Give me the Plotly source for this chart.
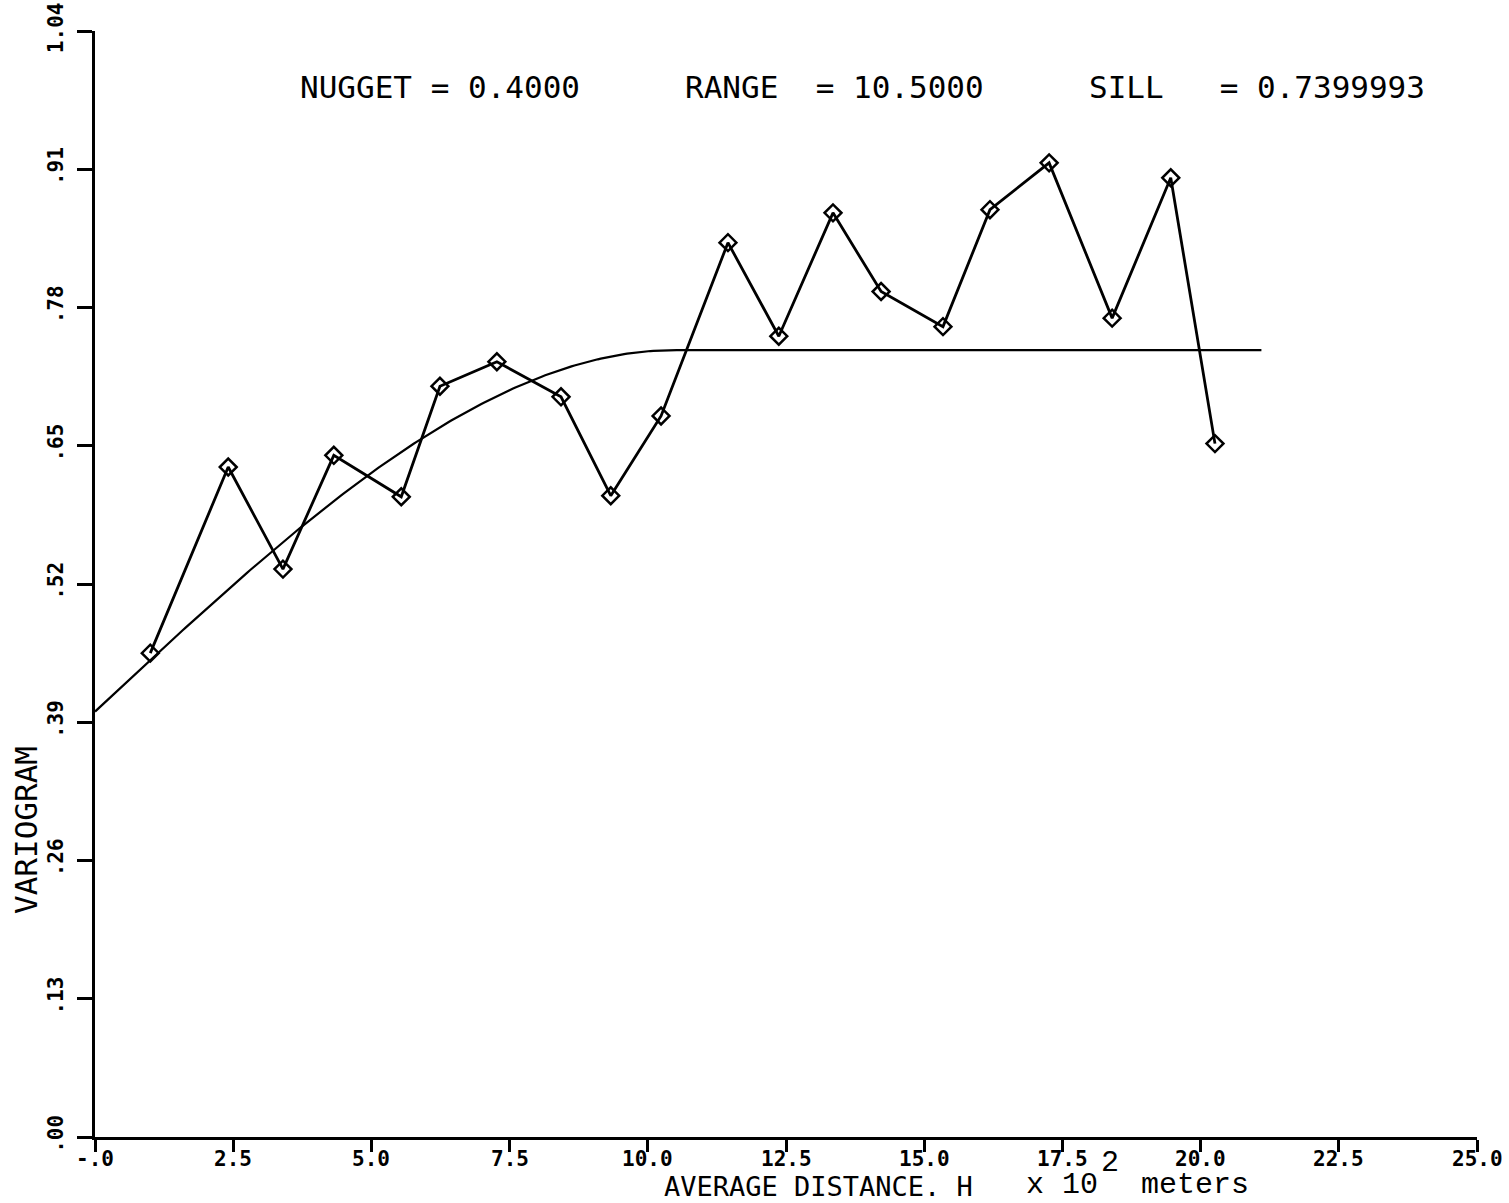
import numpy as np
import plotly.graph_objects as go

# Experimental semivariogram: average lag distance (x 10^2 m) and variogram value
lag_distance = [1.00, 2.41, 3.40, 4.32, 5.54, 6.24, 7.27, 8.43, 9.33, 10.24,
                11.45, 12.37, 13.35, 14.22, 15.34, 16.19, 17.26, 18.40, 19.46, 20.26]
variogram = [0.455, 0.630, 0.534, 0.641, 0.602, 0.706, 0.729, 0.696, 0.603, 0.678,
             0.841, 0.753, 0.869, 0.795, 0.762, 0.872, 0.916, 0.770, 0.902, 0.652]

# Fitted spherical model parameters
NUGGET = 0.4000
RANGE = 10.5000
SILL = 0.7399993
MODEL_MAX_LAG = 21.1

x_ticks = [0, 2.5, 5.0, 7.5, 10.0, 12.5, 15.0, 17.5, 20.0, 22.5, 25.0]
x_tick_text = ["-.0", "2.5", "5.0", "7.5", "10.0", "12.5", "15.0", "17.5", "20.0", "22.5", "25.0"]
y_ticks = [0.0, 0.13, 0.26, 0.39, 0.52, 0.65, 0.78, 0.91, 1.04]
y_tick_text = [".00", ".13", ".26", ".39", ".52", ".65", ".78", ".91", "1.04"]

# Spherical model curve built from the stated nugget, range and sill
h = np.linspace(0, MODEL_MAX_LAG, 400)
r = np.minimum(h / RANGE, 1.0)
model = NUGGET + (SILL - NUGGET) * (1.5 * r - 0.5 * r ** 3)

fig = go.Figure()
fig.add_trace(go.Scatter(x=h, y=model, mode="lines",
                         line=dict(color="black", width=2.2), hoverinfo="skip"))
fig.add_trace(go.Scatter(x=lag_distance, y=variogram, mode="lines+markers",
                         line=dict(color="black", width=2.8),
                         marker=dict(symbol="diamond-open", size=13, color="black",
                                     line=dict(color="black", width=2.5))))

plot_font = "DejaVu Sans Mono"
tick_font = dict(family=plot_font, size=21, color="black", weight="bold")

PLOT_W = 1509 - 95 - 32
PLOT_H = 1137 - 31

fig.update_layout(
    width=1509, height=1203,
    margin=dict(l=95, r=32, t=31, b=66),
    paper_bgcolor="white", plot_bgcolor="white",
    showlegend=False,
    xaxis=dict(range=[0, 25], showgrid=False, zeroline=False, automargin=False,
               showline=True, linecolor="black", linewidth=3,
               ticks="outside", ticklen=12, tickwidth=2.5, tickcolor="black",
               tickvals=x_ticks, showticklabels=False),
    yaxis=dict(range=[0, 1.04], showgrid=False, zeroline=False, automargin=False,
               showline=True, linecolor="black", linewidth=3,
               ticks="outside", ticklen=15, tickwidth=2.5, tickcolor="black",
               tickvals=y_ticks, ticktext=y_tick_text, tickfont=tick_font,
               tickangle=-90, ticklabelstandoff=6),
)

# x tick labels sit tight under the ticks
for val, txt in zip(x_ticks, x_tick_text):
    fig.add_annotation(text=txt, x=val, xref="x", yref="paper",
                       y=(1137 - 1159) / PLOT_H, xanchor="center", yanchor="middle",
                       showarrow=False, font=tick_font)

label_font = dict(family=plot_font, size=31, color="black")
header = [("NUGGET = 0.4000", 298), ("RANGE  = 10.5000", 683), ("SILL   = 0.7399993", 1087)]
for text, px in header:
    fig.add_annotation(text=text, xref="paper", yref="paper",
                       x=(px - 95) / PLOT_W, y=(1137 - 87) / PLOT_H,
                       xanchor="left", yanchor="middle", showarrow=False, font=label_font)

# Axis titles
fig.add_annotation(text="VARIOGRAM", xref="paper", yref="paper",
                   x=(26 - 95) / PLOT_W, y=(1137 - 830) / PLOT_H, textangle=-90,
                   xanchor="center", yanchor="middle", showarrow=False, font=label_font)
fig.add_annotation(text="AVERAGE DISTANCE. H", xref="paper", yref="paper",
                   x=(818 - 95) / PLOT_W, y=(1137 - 1186) / PLOT_H,
                   xanchor="center", yanchor="middle", showarrow=False,
                   font=dict(family=plot_font, size=27, color="black"))
unit_font = dict(family="Liberation Mono", size=30, color="black")
fig.add_annotation(text="x 10", xref="paper", yref="paper",
                   x=(1024 - 95) / PLOT_W, y=(1137 - 1185) / PLOT_H,
                   xanchor="left", yanchor="middle", showarrow=False, font=unit_font)
fig.add_annotation(text="2", xref="paper", yref="paper",
                   x=(1099 - 95) / PLOT_W, y=(1137 - 1163) / PLOT_H,
                   xanchor="left", yanchor="middle", showarrow=False, font=unit_font)
fig.add_annotation(text="meters", xref="paper", yref="paper",
                   x=(1139 - 95) / PLOT_W, y=(1137 - 1185) / PLOT_H,
                   xanchor="left", yanchor="middle", showarrow=False, font=unit_font)

fig.write_html("out.html")
